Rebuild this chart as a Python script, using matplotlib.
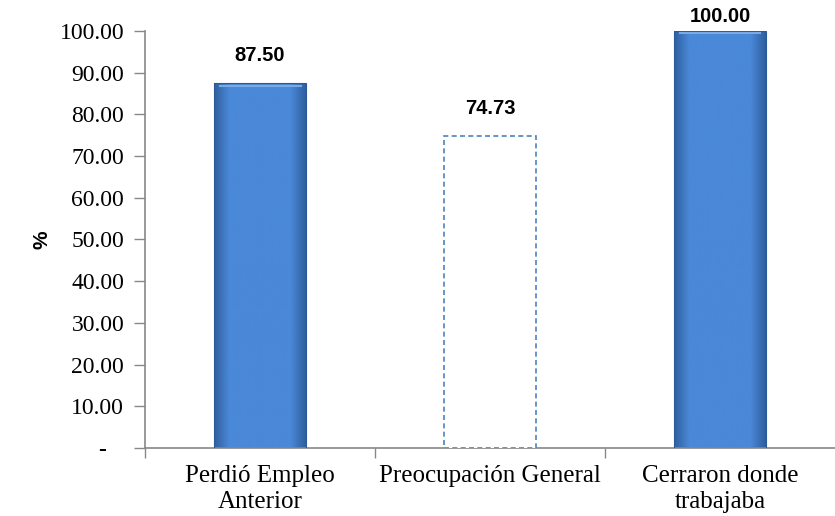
import numpy as np
import matplotlib.pyplot as plt
from matplotlib.ticker import FixedLocator, FuncFormatter

# data
categorias = ['Perdió Empleo\nAnterior', 'Preocupación General', 'Cerraron donde\ntrabajaba']
valores = [87.50, 74.73, 100.00]
etiquetas = ['87.50', '74.73', '100.00']
rellenos = [True, False, True]

fig = plt.figure(figsize=(8.35, 5.16), dpi=100)
ax = fig.add_axes([0.1737, 0.1318, 0.8263, 0.8082])

x = np.arange(len(categorias))
barras = ax.bar(x, valores, width=0.4, color='none', edgecolor='none', zorder=2)

# bevel-ish gradient for filled bars
grad = np.linspace(0, 1, 200)
perfil = 1 - np.abs(grad - 0.5) * 2
perfil = np.clip(perfil * 3, 0, 1)
cmap = plt.matplotlib.colors.LinearSegmentedColormap.from_list('azul', ['#2f5f9f', '#4a88d8'])
for b, lleno in zip(barras, rellenos):
    x0, w, h = b.get_x(), b.get_width(), b.get_height()
    if lleno:
        img = ax.imshow(perfil[np.newaxis, :], extent=[x0, x0 + w, 0, h], aspect='auto',
                        cmap=cmap, vmin=0, vmax=1, zorder=2)
        img.set_clip_path(b)
        ax.bar(x0 + w / 2, h, width=w, color='none', edgecolor='#2c5a96', linewidth=0.8, zorder=3)
        # lighter top edge
        ax.plot([x0 + w * 0.06, x0 + w * 0.94], [h - 0.6, h - 0.6], color='#7aaae6', lw=1.5, zorder=3)
    else:
        ax.bar(x0 + w / 2, h, width=w, color='white', edgecolor='#4f81bd',
               linewidth=1.2, linestyle=(0, (3, 2)), zorder=3)

for xi, v, t in zip(x, valores, etiquetas):
    ax.text(xi, min(v + 4.3, 101.2), t, ha='center', va='bottom', fontsize=14.5,
            fontweight='bold', family='Liberation Sans', clip_on=False)

ax.set_xlim(-0.5, 2.5)
ax.set_ylim(0, 100)

ax.set_yticks(np.arange(0, 101, 10))
ax.yaxis.set_major_formatter(FuncFormatter(lambda v, p: '-   ' if v == 0 else f'{v:.2f}'))
ax.tick_params(axis='y', direction='out', length=8, width=1, color='#888888', pad=7,
               labelsize=17)
for lab in ax.get_yticklabels():
    lab.set_family('Liberation Serif')
ax.get_yticklabels()[0].set_fontweight('bold')

ax.set_xticks(x)
ax.set_xticklabels(categorias, family='Liberation Serif', fontsize=18, linespacing=1.25)
ax.tick_params(axis='x', which='major', length=0, pad=12)
ax.xaxis.set_minor_locator(FixedLocator([-0.5, 0.5, 1.5]))
ax.tick_params(axis='x', which='minor', direction='out', length=7, width=1, color='#888888')

for s in ['top', 'right']:
    ax.spines[s].set_visible(False)
for s in ['left', 'bottom']:
    ax.spines[s].set_color('#888888')
    ax.spines[s].set_linewidth(1.2)

ax.set_ylabel('%', fontsize=15, fontweight='bold', family='Liberation Sans')
ax.yaxis.set_label_coords(-0.135, 0.5)

fig.savefig('out.png', dpi=100)
